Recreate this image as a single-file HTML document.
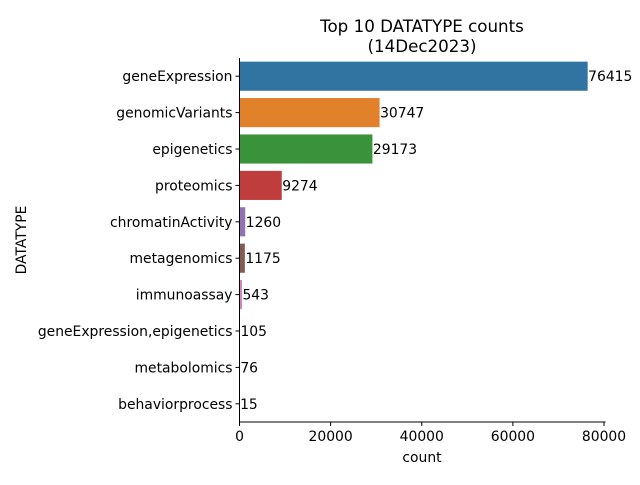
<!DOCTYPE html>
<html><head><meta charset="utf-8"><style>
body{margin:0;background:#fff;font-family:"Liberation Sans","DejaVu Sans",sans-serif;}
svg text{font-family:"DejaVu Sans","Liberation Sans",sans-serif;font-size:13.9px;fill:#000;}
</style></head><body>
<svg id="chart" width="640" height="480" viewBox="0 0 640 480" xmlns="http://www.w3.org/2000/svg">
<text x="422" y="32" text-anchor="middle" style="font-size:16.7px">Top 10 DATATYPE counts</text>
<text x="422" y="52" text-anchor="middle" style="font-size:16.7px">(14Dec2023)</text>
<g id="plot"></g>
<text x="422" y="462" text-anchor="middle">count</text>
<text x="0" y="0" text-anchor="middle" transform="translate(26,240) rotate(-90)">DATATYPE</text>
</svg>
<script>
const categories=["geneExpression","genomicVariants","epigenetics","proteomics","chromatinActivity","metagenomics","immunoassay","geneExpression,epigenetics","metabolomics","behaviorprocess"];
const counts=[76415,30747,29173,9274,1260,1175,543,105,76,15];
const xTicks=[0,20000,40000,60000,80000];
const colors=["#3274a1","#e1812c","#3a923a","#c03d3e","#9372b2","#845b53","#d684bd","#7f7f7f","#a9aa35","#2e9ebf"];
const NS="http://www.w3.org/2000/svg";
const L=239.5,R=604,T=58,B=422;
const xMax=80000;
const x=v=>L+(v/xMax)*(R-L);
const band=(B-T)/categories.length;
const y=i=>T+band*(i+0.5);
const g=document.getElementById('plot');
function mk(t,a){const e=document.createElementNS(NS,t);for(const k in a)e.setAttribute(k,a[k]);g.appendChild(e);return e;}
categories.forEach((c,i)=>{
 const h=band*0.8;
 const r=mk('rect',{x:L,y:y(i)-h/2,width:Math.max(0,x(counts[i])-L),height:h,fill:colors[i]});
 
 
 const lt=mk('text',{x:x(counts[i])+0.5,y:y(i)+5});
 lt.textContent=counts[i];
 
 
 const tk=mk('line',{x1:L-4,x2:L,y1:y(i),y2:y(i),stroke:'#000','stroke-width':1});
 
 
 const tl=mk('text',{x:L-7,y:y(i)+5,'text-anchor':'end'});
 tl.textContent=c;
 
 
});
xTicks.forEach(v=>{
 const tk=mk('line',{x1:x(v),x2:x(v),y1:B,y2:B+4,stroke:'#000','stroke-width':1});
 
 
 const tl=mk('text',{x:x(v),y:B+19,'text-anchor':'middle'});
 tl.textContent=v;
 
 
});
const ya=mk('line',{x1:L,x2:L,y1:T,y2:B,stroke:'#000','stroke-width':1});


const xa=mk('line',{x1:L,x2:605.5,y1:B,y2:B,stroke:'#000','stroke-width':1});


</script>
</body></html>
